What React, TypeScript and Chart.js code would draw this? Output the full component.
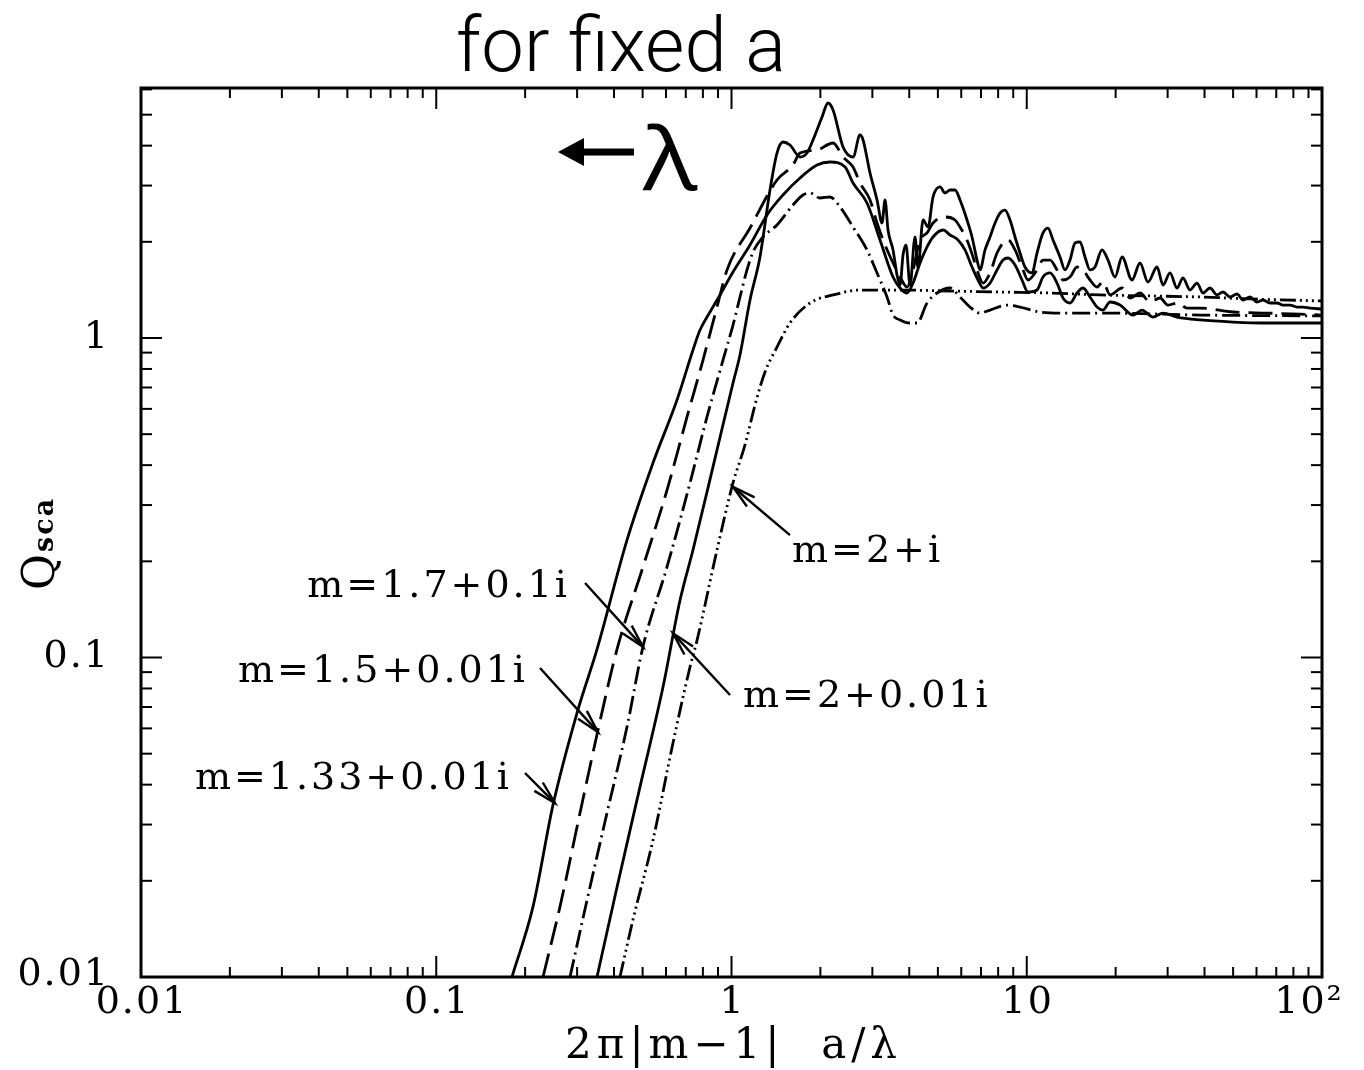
import React, { useEffect, useRef } from 'react';
import { Chart, registerables } from 'chart.js';

Chart.register(...registerables);

// ---------- text ----------
const TITLE = 'for fixed a';
const X_TITLE = '2π|m−1|  a/λ';
const Y_TITLE_MAIN = 'Q';
const Y_TITLE_SUB = 'sca';
const LAMBDA_TEXT = 'λ';

// ---------- axes ----------
const X_MIN = 0.01;
const X_MAX = 100;
const Y_MIN = 0.01;
const Y_MAX = 6.06;
const xMajorTicks = [0.01, 0.1, 1, 10, 100];
const xTickLabels = ['0.01', '0.1', '1', '10', '10²'];
const yMajorTicks = [0.01, 0.1, 1];
const yTickLabels = ['0.01', '0.1', '1'];
const minorMultipliers = [2, 3, 4, 5, 6, 7, 8, 9];

// ---------- series ----------
const seriesNames = ['m=1.33+0.01i', 'm=1.5+0.01i', 'm=1.7+0.1i', 'm=2+0.01i', 'm=2+i'];

const x133 = [0.1805, 0.2127, 0.2485, 0.2997, 0.3503, 0.4426, 0.5420, 0.6537, 0.7405, 0.7822, 0.8456, 0.9143, 1.0118, 1.1553, 1.3189, 1.4939, 1.7061, 1.9482, 2.1567, 2.4245, 2.5802, 2.8774, 3.1845, 3.5247, 3.7226, 3.9315, 4.1196, 4.3512, 4.5953, 4.8146, 5.2056, 5.4978, 5.8507, 6.1784, 6.5260, 6.8384, 7.1101, 7.5095, 7.9306, 8.3108, 8.6412, 9.1265, 9.6383, 10.098, 10.832, 11.350, 11.989, 12.663, 13.268, 14.013, 14.800, 15.508, 16.379, 17.299, 18.126, 19.143, 20.697, 22.907, 24.569, 26.768, 28.940, 32.276, 38.619, 49.955, 65.103, 100];
const q133 = [0.0100, 0.0166, 0.0345, 0.0670, 0.106, 0.233, 0.406, 0.640, 0.917, 1.059, 1.206, 1.364, 1.609, 1.955, 2.427, 2.803, 3.168, 3.479, 3.555, 3.429, 3.056, 2.646, 2.027, 1.552, 1.434, 1.383, 1.486, 1.717, 1.927, 2.071, 2.178, 2.101, 2.027, 1.886, 1.668, 1.519, 1.434, 1.486, 1.633, 1.754, 1.780, 1.692, 1.519, 1.393, 1.413, 1.552, 1.598, 1.486, 1.334, 1.287, 1.383, 1.434, 1.344, 1.250, 1.223, 1.296, 1.268, 1.180, 1.223, 1.163, 1.197, 1.163, 1.139, 1.122, 1.114, 1.114];

const x150 = [0.2299, 0.2625, 0.3068, 0.3531, 0.4094, 0.5013, 0.6047, 0.7068, 0.8007, 0.8931, 0.9655, 1.1553, 1.4258, 1.6153, 1.7061, 1.9482, 2.2079, 2.3866, 2.5802, 2.7251, 2.9458, 3.1114, 3.2603, 3.5247, 3.7226, 3.9315, 4.1196, 4.3512, 4.5953, 4.8146, 5.2876, 5.7148, 5.9429, 6.2760, 6.5775, 6.8384, 7.1101, 7.5095, 7.9306, 8.3108, 8.6412, 9.1265, 9.6383, 10.098, 10.832, 11.350, 11.989, 12.663, 13.268, 14.013, 14.800, 15.508, 16.379, 17.299, 18.126, 19.143, 21.023, 22.376, 24.188, 26.150, 28.271, 30.088, 32.530, 34.893, 38.619, 49.955, 65.103, 100];
const q150 = [0.0100, 0.0166, 0.0326, 0.0593, 0.106, 0.192, 0.334, 0.566, 0.853, 1.250, 1.633, 2.209, 3.123, 3.479, 3.793, 3.876, 4.077, 3.686, 3.429, 3.056, 2.704, 2.291, 2.027, 1.717, 1.552, 1.444, 1.633, 2.027, 2.132, 2.291, 2.392, 2.341, 2.225, 2.027, 1.793, 1.598, 1.486, 1.598, 1.845, 1.983, 2.027, 1.886, 1.668, 1.519, 1.633, 1.754, 1.754, 1.633, 1.519, 1.552, 1.668, 1.633, 1.519, 1.444, 1.500, 1.364, 1.434, 1.334, 1.383, 1.296, 1.334, 1.268, 1.287, 1.241, 1.241, 1.206, 1.197, 1.180];

const x170 = [0.2838, 0.3241, 0.3787, 0.4426, 0.5013, 0.6047, 0.7236, 0.8259, 0.9358, 1.0118, 1.0685, 1.1285, 1.1826, 1.2784, 1.4258, 1.6153, 1.7465, 1.8447, 1.9945, 2.1567, 2.3317, 2.5802, 2.8774, 3.1114, 3.3631, 3.5247, 3.7226, 4.0241, 4.2501, 4.5953, 4.9666, 5.4978, 5.9429, 6.4245, 6.9463, 7.5095, 8.5738, 9.4895, 11.089, 12.961, 17.705, 38.619, 100];
const q170 = [0.0100, 0.0174, 0.0326, 0.0606, 0.108, 0.192, 0.352, 0.566, 0.853, 1.098, 1.344, 1.633, 1.859, 2.071, 2.258, 2.608, 2.803, 2.844, 2.743, 2.763, 2.570, 2.225, 1.886, 1.598, 1.344, 1.180, 1.139, 1.114, 1.114, 1.287, 1.383, 1.434, 1.344, 1.250, 1.197, 1.223, 1.268, 1.250, 1.206, 1.197, 1.197, 1.180, 1.172];

const x200 = [0.3503, 0.4094, 0.4897, 0.5861, 0.6693, 0.7405, 0.8656, 1.0118, 1.0685, 1.1553, 1.2488, 1.3500, 1.4258, 1.4939, 1.5778, 1.7061, 1.8018, 1.8884, 2.0261, 2.1231, 2.2079, 2.3866, 2.5802, 2.7251, 2.7898, 2.9458, 3.1114, 3.2349, 3.3113, 3.3896, 3.5247, 3.6355, 3.7226, 3.8107, 3.8997, 4.0241, 4.1846, 4.2834, 4.4545, 4.6313, 4.8146, 5.0849, 5.2876, 5.4978, 5.7148, 5.9429, 6.2760, 6.5260, 6.7853, 6.9463, 7.2225, 7.5095, 7.8083, 8.1181, 8.4407, 8.7779, 9.1265, 9.4895, 9.8650, 10.418, 10.832, 11.350, 11.803, 12.273, 12.961, 13.477, 14.013, 14.571, 15.151, 15.753, 16.379, 17.028, 17.985, 18.845, 19.906, 21.023, 22.729, 24.188, 25.745, 27.617, 28.940, 30.563, 32.276, 33.822, 35.721, 37.723, 39.536, 41.749, 44.108, 46.216, 48.800, 51.536, 54.000, 57.024, 60.216, 63.110, 66.653, 70.388, 73.790, 77.919, 82.290, 86.230, 91.060, 100];
const q200 = [0.0100, 0.0191, 0.0393, 0.0808, 0.151, 0.217, 0.395, 0.723, 0.885, 1.315, 1.793, 2.906, 3.793, 4.107, 4.018, 3.686, 3.793, 4.166, 4.918, 5.439, 5.172, 3.961, 3.686, 4.319, 4.166, 3.284, 2.704, 2.291, 2.704, 2.178, 1.886, 1.575, 1.465, 1.819, 1.955, 1.465, 2.071, 1.656, 2.341, 2.225, 2.763, 2.970, 2.844, 2.906, 2.906, 2.704, 2.341, 2.071, 1.754, 1.633, 1.886, 2.071, 2.291, 2.461, 2.515, 2.341, 2.071, 1.845, 1.668, 1.598, 1.845, 2.132, 2.209, 2.027, 1.793, 1.633, 1.754, 1.983, 1.998, 1.793, 1.633, 1.668, 1.886, 1.754, 1.552, 1.793, 1.519, 1.717, 1.497, 1.668, 1.465, 1.598, 1.434, 1.541, 1.413, 1.486, 1.383, 1.434, 1.364, 1.393, 1.344, 1.373, 1.315, 1.344, 1.296, 1.315, 1.287, 1.287, 1.268, 1.268, 1.250, 1.250, 1.241, 1.232];

const x2i = [0.4190, 0.4637, 0.5420, 0.6336, 0.7236, 0.7640, 0.8931, 1.0118, 1.1110, 1.2012, 1.2985, 1.4258, 1.5778, 1.8447, 2.2079, 2.7251, 3.7226, 5.4978, 8.1181, 11.989, 17.705, 26.150, 38.619, 57.024, 100];
const q2i = [0.0100, 0.0151, 0.0268, 0.0540, 0.0934, 0.113, 0.217, 0.352, 0.4625, 0.617, 0.783, 0.937, 1.114, 1.287, 1.364, 1.413, 1.413, 1.403, 1.393, 1.383, 1.364, 1.354, 1.344, 1.325, 1.306];

// ---------- annotations (data coordinates) ----------
const labelTexts = ['m=2+i', 'm=1.7+0.1i', 'm=1.5+0.01i', 'm=1.33+0.01i', 'm=2+0.01i'];
const labelX = [1.603, 0.2838, 0.2045, 0.1805, 1.094];
const labelY = [0.2139, 0.1662, 0.0901, 0.0417, 0.0752];
const labelAlign = ['left', 'right', 'right', 'right', 'left'];
const arrowTailX = [1.5778, 0.3191, 0.2246, 0.1998, 0.9884];
const arrowTailY = [0.2417, 0.1711, 0.0927, 0.0435, 0.0763];
const arrowTipX = [1.0118, 0.5013, 0.3531, 0.2524, 0.6336];
const arrowTipY = [0.3417, 0.108, 0.0584, 0.0350, 0.119];
const lambdaArrowX = 0.2584;
const lambdaArrowY = 3.82;

const SERIF = "'DejaVu Serif', serif";

function zip(xs: number[], ys: number[]) {
  const n = Math.min(xs.length, ys.length);
  const out: { x: number; y: number }[] = [];
  for (let i = 0; i < n; i++) out.push({ x: xs[i], y: ys[i] });
  return out;
}

function drawArrow(ctx: CanvasRenderingContext2D, x1: number, y1: number, x2: number, y2: number) {
  ctx.beginPath();
  ctx.moveTo(x1, y1);
  ctx.lineTo(x2, y2);
  ctx.stroke();
  const ang = Math.atan2(y2 - y1, x2 - x1);
  const L = 24;
  const w = 0.25;
  ctx.beginPath();
  ctx.moveTo(x2 - L * Math.cos(ang - w), y2 - L * Math.sin(ang - w));
  ctx.lineTo(x2, y2);
  ctx.lineTo(x2 - L * Math.cos(ang + w), y2 - L * Math.sin(ang + w));
  ctx.stroke();
}

const decorPlugin = {
  id: 'decor',
  afterDraw(chart: any) {
    const { ctx, chartArea: a, scales } = chart;
    const xs = scales.x;
    const ys = scales.y;
    ctx.save();
    ctx.strokeStyle = '#000';
    ctx.fillStyle = '#000';

    // frame
    ctx.lineWidth = 3;
    ctx.strokeRect(a.left, a.top, a.right - a.left, a.bottom - a.top);

    // ticks
    ctx.lineWidth = 2;
    const seg = (x1: number, y1: number, x2: number, y2: number) => {
      ctx.beginPath();
      ctx.moveTo(x1, y1);
      ctx.lineTo(x2, y2);
      ctx.stroke();
    };
    const xTick = (v: number, len: number) => {
      const p = xs.getPixelForValue(v);
      seg(p, a.bottom, p, a.bottom - len);
      seg(p, a.top, p, a.top + len);
    };
    const yTick = (v: number, len: number) => {
      const p = ys.getPixelForValue(v);
      seg(a.left, p, a.left + len, p);
      seg(a.right, p, a.right - len, p);
    };
    xMajorTicks.forEach((v) => xTick(v, 21));
    xMajorTicks.slice(0, -1).forEach((d) => minorMultipliers.forEach((k) => xTick(d * k, 10)));
    yMajorTicks.forEach((v) => yTick(v, 21));
    yMajorTicks.forEach((d) => minorMultipliers.forEach((k) => {
      const v = d * k;
      if (v < Y_MAX * 0.995) yTick(v, 11);
    }));

    // tick labels
    ctx.font = `38px ${SERIF}`;
    (ctx as any).letterSpacing = '2px';
    ctx.textBaseline = 'middle';
    ctx.textAlign = 'center';
    xMajorTicks.forEach((v, i) => {
      let p = xs.getPixelForValue(v);
      if (i === xMajorTicks.length - 1) p -= 14;
      ctx.fillText(xTickLabels[i], p + 1, a.bottom + 26);
    });
    ctx.textAlign = 'right';
    yMajorTicks.forEach((v, i) => {
      const p = ys.getPixelForValue(v);
      ctx.fillText(yTickLabels[i], a.left - 31, p - (i === 0 ? 2 : 0));
    });

    // x title
    ctx.textAlign = 'center';
    ctx.textBaseline = 'alphabetic';
    ctx.font = `42px ${SERIF}`;
    (ctx as any).letterSpacing = '5px';
    ctx.fillText(X_TITLE, (a.left + a.right) / 2 + 2, a.bottom + 81);

    // y title (rotated)
    ctx.save();
    ctx.translate(40, 575);
    ctx.rotate(-Math.PI / 2);
    (ctx as any).letterSpacing = '0px';
    ctx.font = `44px ${SERIF}`;
    ctx.textAlign = 'left';
    ctx.textBaseline = 'alphabetic';
    ctx.fillText(Y_TITLE_MAIN, -15, 14);
    ctx.font = `bold 27px ${SERIF}`;
    (ctx as any).letterSpacing = '2px';
    ctx.fillText(Y_TITLE_SUB, 23, 13);
    ctx.restore();

    // curve labels and arrows
    ctx.font = `38px ${SERIF}`;
    (ctx as any).letterSpacing = '3px';
    ctx.textBaseline = 'middle';
    labelTexts.forEach((t, i) => {
      ctx.textAlign = labelAlign[i] as CanvasTextAlign;
      ctx.fillText(t, xs.getPixelForValue(labelX[i]), ys.getPixelForValue(labelY[i]));
    });
    ctx.lineWidth = 2.4;
    labelTexts.forEach((_, i) => {
      drawArrow(
        ctx,
        xs.getPixelForValue(arrowTailX[i]),
        ys.getPixelForValue(arrowTailY[i]),
        xs.getPixelForValue(arrowTipX[i]),
        ys.getPixelForValue(arrowTipY[i])
      );
    });

    // "← λ"
    const ax = xs.getPixelForValue(lambdaArrowX);
    const ay = ys.getPixelForValue(lambdaArrowY);
    ctx.beginPath();
    ctx.moveTo(ax, ay);
    ctx.lineTo(ax + 26, ay - 14);
    ctx.lineTo(ax + 26, ay + 14);
    ctx.closePath();
    ctx.fill();
    ctx.fillRect(ax + 20, ay - 3.5, 56, 7);
    (ctx as any).letterSpacing = '0px';
    ctx.save();
    ctx.translate(ax + 85, ay + 38);
    ctx.scale(1.18, 1);
    ctx.font = `86px 'Open Sans', sans-serif`;
    ctx.textAlign = 'left';
    ctx.textBaseline = 'alphabetic';
    ctx.fillText(LAMBDA_TEXT, 0, 0);
    ctx.restore();

    // title
    ctx.font = `300 76px Roboto, sans-serif`;
    ctx.textAlign = 'center';
    ctx.textBaseline = 'alphabetic';
    ctx.fillText(TITLE, 621, 71);

    ctx.restore();
  },
};

export default function App() {
  const ref = useRef<HTMLCanvasElement>(null);
  useEffect(() => {
    if (!ref.current) return;
    const common = {
      borderColor: '#000',
      borderWidth: 2.8,
      pointRadius: 0,
      fill: false,
      cubicInterpolationMode: 'monotone' as const,
    };
    const chart = new Chart(ref.current, {
      type: 'line',
      data: {
        datasets: [
          { ...common, label: seriesNames[0], data: zip(x133, q133) },
          { ...common, label: seriesNames[1], data: zip(x150, q150), borderDash: [24, 9] },
          { ...common, label: seriesNames[2], data: zip(x170, q170), borderDash: [18, 5, 2, 5] },
          { ...common, label: seriesNames[3], data: zip(x200, q200) },
          { ...common, label: seriesNames[4], data: zip(x2i, q2i), borderDash: [16, 4, 2, 4, 2, 4, 2, 4] },
        ],
      },
      options: {
        responsive: false,
        animation: false,
        events: [],
        layout: { padding: { left: 141, top: 88, right: 42, bottom: 93 } },
        plugins: { legend: { display: false }, title: { display: false }, tooltip: { enabled: false } },
        scales: {
          x: { type: 'logarithmic', min: X_MIN, max: X_MAX, display: false },
          y: { type: 'logarithmic', min: Y_MIN, max: Y_MAX, display: false },
        },
      },
      plugins: [decorPlugin],
    } as any);
    return () => chart.destroy();
  }, []);
  return (
    <div style={{ position: 'fixed', left: 0, top: 0, width: 1364, height: 1070, background: '#fff' }}>
      <canvas ref={ref} width={1364} height={1070} style={{ display: 'block', width: 1364, height: 1070 }} />
    </div>
  );
}
